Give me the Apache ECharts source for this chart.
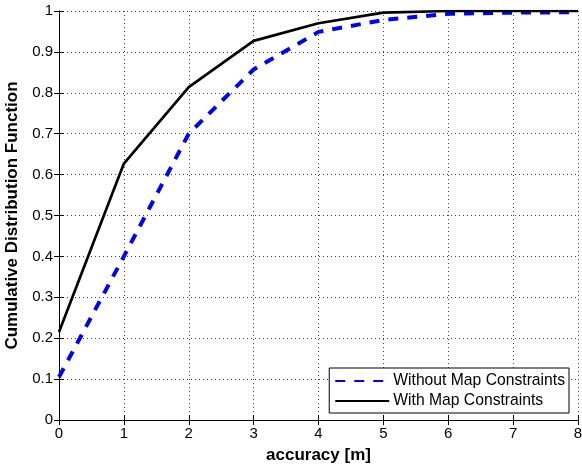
<!DOCTYPE html>
<html><head><meta charset="utf-8">
<script src="https://cdn.jsdelivr.net/npm/echarts@6/dist/echarts.min.js"></script>
<style>html,body{margin:0;padding:0;background:#fff}#c{width:582px;height:466px}</style>
</head><body><div id="c"></div>
<script>
const xValues = [0, 1, 2, 3, 4, 5, 6, 7, 8];
const withoutMap = [0.105, 0.40, 0.70, 0.857, 0.949, 0.978, 0.993, 0.996, 0.997];
const withMap = [0.215, 0.627, 0.814, 0.927, 0.970, 0.996, 1.0, 1.0, 1.0];
const seriesNames = ['Without Map Constraints', 'With Map Constraints'];
const xTitle = 'accuracy [m]';
const yTitle = 'Cumulative Distribution Function';

const font = 'Liberation Sans, Arial, Helvetica, sans-serif';
const chart = echarts.init(document.getElementById('c'));
const tickStyle = {show: true, inside: true, length: 5, lineStyle: {color: '#000', width: 1}};
const grid = {left: 59, right: 4, top: 11, bottom: 46, containLabel: false, outerBoundsMode: 'none'};
chart.setOption({
  animation: false,
  grid: grid,
  legend: {
    right: 13, bottom: 53, orient: 'vertical',
    backgroundColor: '#fff', borderColor: '#000', borderWidth: 1,
    padding: [5, 4, 4, 5], itemGap: 4, itemWidth: 54, itemHeight: 16,
    itemStyle: {opacity: 0, borderWidth: 0},
    textStyle: {fontFamily: font, fontSize: 15.7, color: '#000', padding: [0, 0, 0, -1]},
    data: seriesNames
  },
  xAxis: [{
    type: 'value', min: 0, max: 8, interval: 1,
    name: xTitle, nameLocation: 'middle', nameGap: 27,
    nameTextStyle: {fontFamily: font, fontSize: 17, fontWeight: 'bold', color: '#000'},
    axisLine: {show: true, lineStyle: {color: '#000', width: 1}},
    axisTick: tickStyle,
    axisLabel: {fontFamily: font, fontSize: 15, color: '#000', margin: 6},
    splitLine: {show: true, lineStyle: {color: '#444', type: [1, 3], width: 1}}
  }, {
    type: 'value', position: 'top', min: 0, max: 8, interval: 1,
    axisLine: {show: true, lineStyle: {color: '#000', width: 1}},
    axisTick: tickStyle, axisLabel: {show: false}, splitLine: {show: false}
  }],
  yAxis: [{
    type: 'value', min: 0, max: 1, interval: 0.1,
    name: yTitle, nameLocation: 'middle', nameGap: 32, nameRotate: 90,
    nameTextStyle: {fontFamily: font, fontSize: 17, fontWeight: 'bold', color: '#000'},
    axisLine: {show: true, lineStyle: {color: '#000', width: 1}},
    axisTick: tickStyle,
    axisLabel: {fontFamily: font, fontSize: 15, color: '#000', margin: 6,
      formatter: v => (Math.round(v * 10) / 10).toString()},
    splitLine: {show: true, lineStyle: {color: '#444', type: [1, 3], width: 1}}
  }, {
    type: 'value', position: 'right', min: 0, max: 1, interval: 0.1,
    axisLine: {show: true, lineStyle: {color: '#000', width: 1}},
    axisTick: tickStyle, axisLabel: {show: false}, splitLine: {show: false}
  }],
  series: [{
    name: seriesNames[0], type: 'line', symbol: 'none',
    data: xValues.map((x, i) => [x, withoutMap[i]]),
    lineStyle: {color: '#0000ff', width: 4, type: [10, 9]},
    itemStyle: {color: '#0000ff'}, z: 3
  }, {
    name: seriesNames[1], type: 'line', symbol: 'none',
    data: xValues.map((x, i) => [x, withMap[i]]),
    lineStyle: {color: '#000', width: 2.7},
    itemStyle: {color: '#000'}, z: 4
  }]
});
</script></body></html>
